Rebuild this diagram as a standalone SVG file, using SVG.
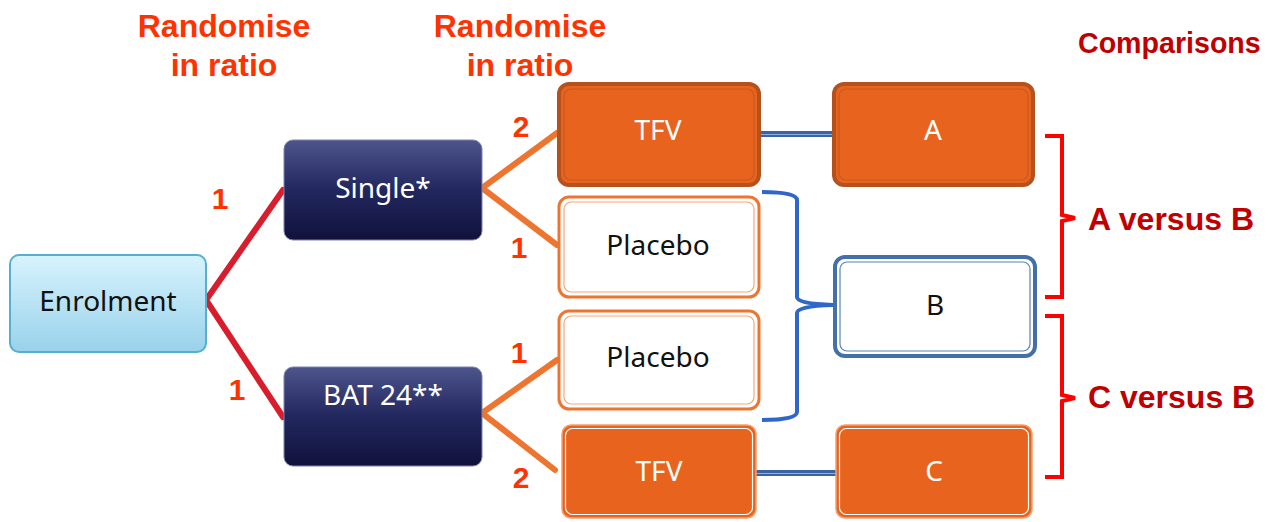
<svg xmlns="http://www.w3.org/2000/svg" width="1272" height="522" viewBox="0 0 1272 522">
<defs>
<linearGradient id="gBlue" x1="0" y1="0" x2="0" y2="1"><stop offset="0" stop-color="#d8f3fd"/><stop offset="1" stop-color="#98d2eb"/></linearGradient>
<linearGradient id="gNavy" x1="0" y1="0" x2="0" y2="1"><stop offset="0" stop-color="#4d558c"/><stop offset="0.5" stop-color="#22275e"/><stop offset="1" stop-color="#10123c"/></linearGradient>
<style>
.hdr{font-family:"Liberation Sans",Arial,sans-serif;font-weight:bold;font-size:32px;fill:#ff3300;text-anchor:middle}
.num{font-family:"Liberation Sans",Arial,sans-serif;font-weight:bold;font-size:30px;fill:#ff3300;text-anchor:middle}
.cmp{font-family:"Liberation Sans",Arial,sans-serif;font-weight:bold;fill:#c00000}
.lbl{font-family:"Noto Sans","DejaVu Sans",sans-serif;font-size:28px;text-anchor:middle}
.w{fill:#ffffff}
.k{fill:#111111}
.red{fill:none;stroke:#d81e2c;stroke-width:6;stroke-linecap:round;stroke-linejoin:miter}
.org{fill:none;stroke:#ee7530;stroke-width:6;stroke-linecap:round}
.blu{fill:none;stroke:#2f66c9;stroke-width:4}
.brk{fill:none;stroke:#ff0000;stroke-width:4}
.dbl{stroke:#3a64a4;stroke-width:6}
.dbl2{stroke:#8fb0dc;stroke-width:1.2}
</style>
</defs>
<rect width="1272" height="522" fill="#ffffff"/>
<g id="headers">
<text class="hdr" x="224" y="37">Randomise</text>
<text class="hdr" x="224" y="76">in ratio</text>
<text class="hdr" x="520" y="37">Randomise</text>
<text class="hdr" x="520" y="76">in ratio</text>
<text class="cmp" x="1078" y="53" font-size="28.6">Comparisons</text>
</g>
<g id="connectors">
<polyline class="red" points="283,190 206,300 283,417"/>
<polyline class="org" points="557,133 482,188 557,245"/>
<polyline class="org" points="557,360 482,413 555,470"/>
<line class="dbl" x1="760" y1="134" x2="833" y2="134"/>
<line class="dbl2" x1="760" y1="134.5" x2="833" y2="134.5"/>
<line class="dbl" x1="756" y1="473" x2="836" y2="473"/>
<line class="dbl2" x1="756" y1="473.5" x2="836" y2="473.5"/>
<path class="blu" d="M762,192 Q797,192 797,200 L797,297 Q797,304 833,305 Q797,306 797,313 L797,412 Q797,420 762,420"/>
<path class="brk" d="M1045,136 L1062,136 L1062,215 L1075,218 L1062,221 L1062,297 L1045,297"/>
<path class="brk" d="M1045,316 L1062,316 L1062,395 L1075,398 L1062,401 L1062,477 L1045,477"/>
</g>
<g id="ratios">
<text class="num" x="220" y="209">1</text>
<text class="num" x="237" y="400">1</text>
<text class="num" x="521" y="137">2</text>
<text class="num" x="519" y="258">1</text>
<text class="num" x="519" y="363">1</text>
<text class="num" x="521" y="488">2</text>
</g>
<g id="enrolment">
<rect x="10" y="255" width="196" height="97" rx="9" fill="url(#gBlue)" stroke="#55b0ce" stroke-width="2"/>
<text class="lbl k" x="108" y="311">Enrolment</text>
</g>
<g id="single">
<rect x="284" y="140" width="198" height="100" rx="9" fill="url(#gNavy)" stroke="#7d84ad" stroke-width="1"/>
<text class="lbl w" x="383" y="198">Single*</text>
</g>
<g id="bat24">
<rect x="284" y="367" width="198" height="99" rx="9" fill="url(#gNavy)" stroke="#7d84ad" stroke-width="1"/>
<text class="lbl w" x="383" y="405">BAT 24**</text>
</g>
<g id="tfv-top">
<rect x="559" y="84" width="200" height="101" rx="10" fill="#e8641e" stroke="#b5511d" stroke-width="4"/>
<rect x="564" y="89" width="190" height="91" rx="7" fill="none" stroke="#c9581f" stroke-width="1.2"/>
<text class="lbl w" x="658" y="140">TFV</text>
</g>
<g id="a">
<rect x="834" y="84" width="199" height="101" rx="10" fill="#e8641e" stroke="#b5511d" stroke-width="4"/>
<rect x="839" y="89" width="189" height="91" rx="7" fill="none" stroke="#c9581f" stroke-width="1.2"/>
<text class="lbl w" x="933" y="140">A</text>
</g>
<g id="placebo-1">
<rect x="559" y="197" width="200" height="100" rx="10" fill="#ffffff" stroke="#ee7530" stroke-width="3"/>
<rect x="564" y="202" width="190" height="90" rx="7" fill="none" stroke="#f4a77a" stroke-width="1.2"/>
<text class="lbl k" x="658" y="255">Placebo</text>
</g>
<g id="placebo-2">
<rect x="559" y="311" width="200" height="98" rx="10" fill="#ffffff" stroke="#ee7530" stroke-width="3"/>
<rect x="564" y="316" width="190" height="88" rx="7" fill="none" stroke="#f4a77a" stroke-width="1.2"/>
<text class="lbl k" x="658" y="367">Placebo</text>
</g>
<g id="b">
<rect x="835" y="257" width="200" height="99" rx="10" fill="#ffffff" stroke="#4470a8" stroke-width="4"/>
<rect x="840" y="262" width="190" height="89" rx="7" fill="none" stroke="#5a82b8" stroke-width="1.2"/>
<text class="lbl k" x="935" y="315">B</text>
</g>
<g id="tfv-bottom">
<rect x="562" y="425" width="194" height="93" rx="9" fill="#e8641e" stroke="#f5a073" stroke-width="1.5"/>
<rect x="565.5" y="428.5" width="187" height="86" rx="7" fill="none" stroke="#ffffff" stroke-width="1.2"/>
<text class="lbl w" x="659" y="481">TFV</text>
</g>
<g id="c">
<rect x="836" y="425" width="196" height="93" rx="9" fill="#e8641e" stroke="#f5a073" stroke-width="1.5"/>
<rect x="839.5" y="428.5" width="189" height="86" rx="7" fill="none" stroke="#ffffff" stroke-width="1.2"/>
<text class="lbl w" x="934" y="481">C</text>
</g>
<g id="comparisons">
<text class="cmp" x="1088" y="230" font-size="32">A versus B</text>
<text class="cmp" x="1088" y="408" font-size="32">C versus B</text>
</g>
</svg>
